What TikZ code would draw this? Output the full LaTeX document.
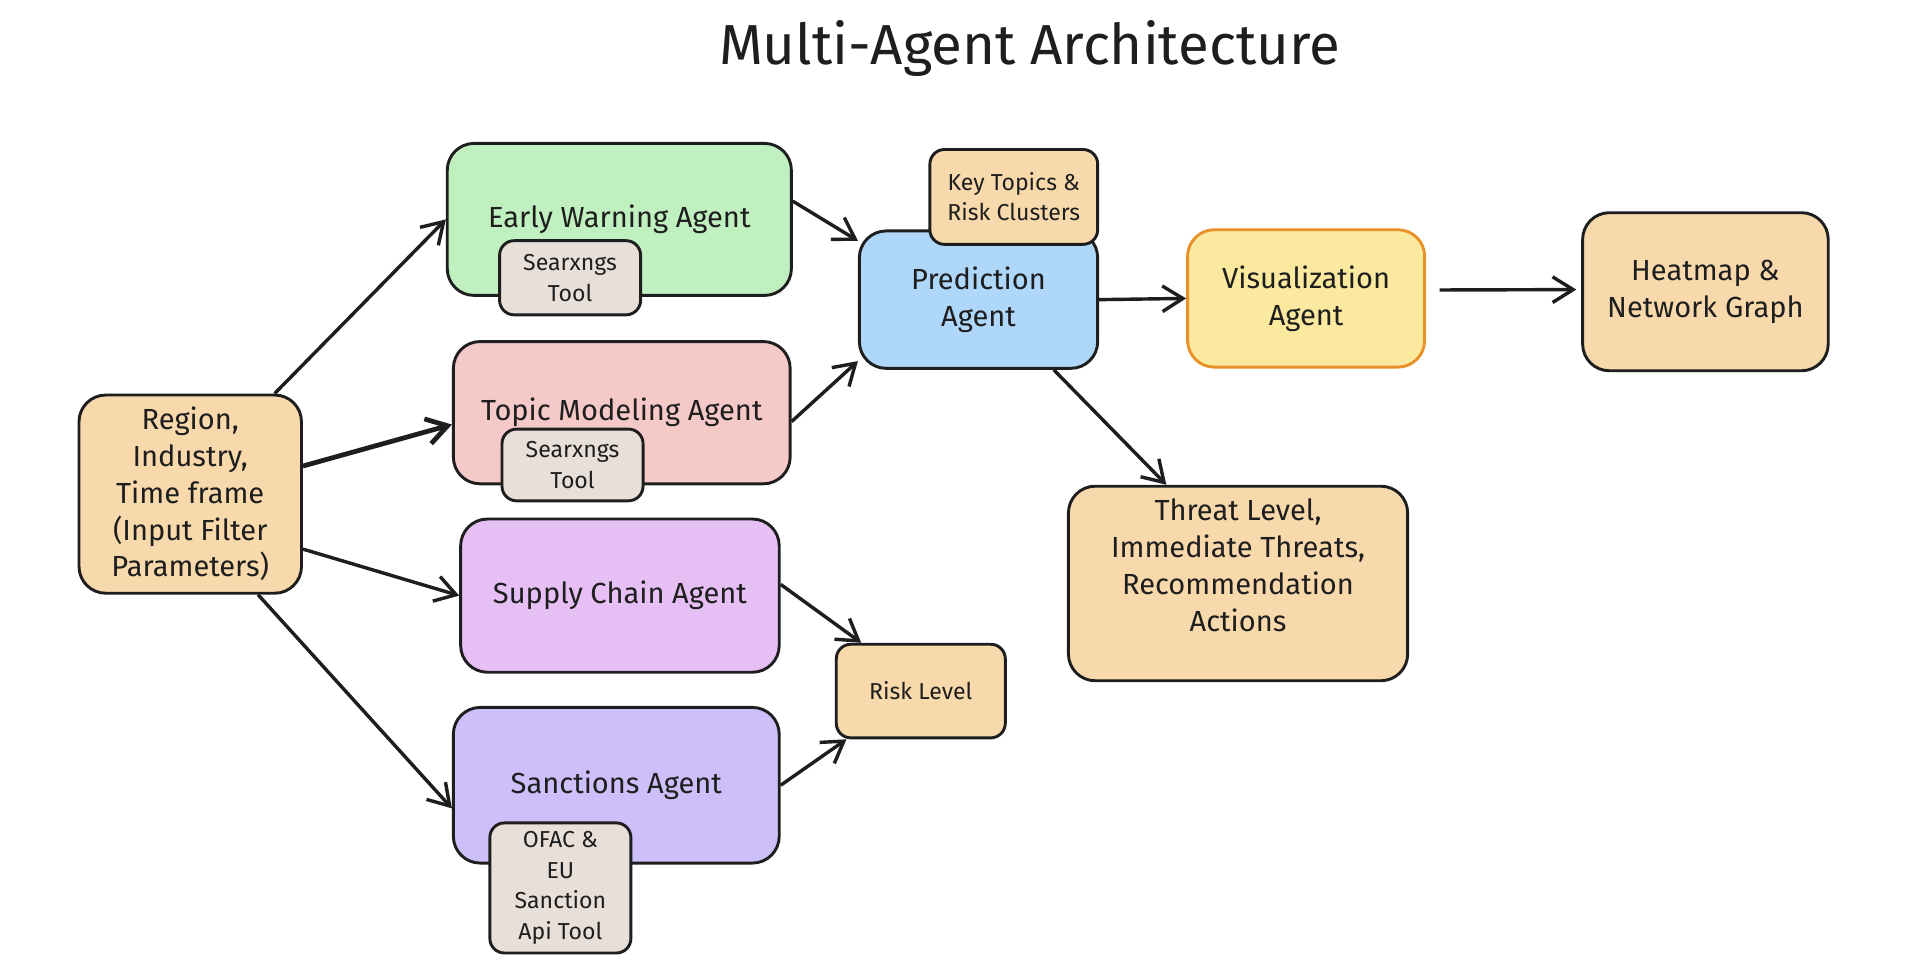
\documentclass[tikz,border=0pt]{standalone}
\usepackage{fontspec}
\setmainfont{Fira Sans}
\usetikzlibrary{arrows.meta,calc}
\definecolor{ink}{RGB}{30,30,30}
\definecolor{peach}{RGB}{248,217,172}
\definecolor{mint}{RGB}{192,240,192}
\definecolor{rose}{RGB}{246,201,201}
\definecolor{lilac}{RGB}{230,192,245}
\definecolor{lavender}{RGB}{205,191,250}
\definecolor{sky}{RGB}{174,215,250}
\definecolor{butter}{RGB}{251,233,160}
\definecolor{amber}{RGB}{232,145,40}
\definecolor{stone}{RGB}{231,223,216}
\tikzset{
  every picture/.style={color=ink, line width=1.7pt},
  box/.style={draw=ink, rounded corners=5.5mm, inner sep=4pt, align=center, text=ink, font=\fontsize{17}{21.5}\selectfont},
  agent/.style={box},
  result/.style={box, fill=peach},
  tool/.style={box, fill=stone, rounded corners=3mm, font=\fontsize{13.5}{18}\selectfont},
  small/.style={box, fill=peach, rounded corners=3mm, font=\fontsize{13.5}{17.5}\selectfont},
  flow/.style={-{Straight Barb[length=12pt,width=15pt]}, line width=2pt, color=ink},
  heavy/.style={flow, line width=2.8pt},
  title/.style={font=\fontsize{33}{40}\selectfont, text=ink},
}

\begin{document}
\begin{tikzpicture}[x=0.025cm, y=-0.025cm]
  \useasboundingbox (0,0) rectangle (1568,796);
  \node[title] (head) at (847,40) {Multi-Agent Architecture};
  % input and agents
  \node[result, minimum width=4.575cm, minimum height=4.075cm] (region) at (156.5,406.5) {Region,\\ Industry,\\ Time frame\\ (Input Filter\\ Parameters)};
  \node[agent, fill=mint, minimum width=7.075cm, minimum height=3.125cm] (early) at (509.5,180.5) {Early Warning Agent};
  \node[agent, fill=rose, minimum width=6.925cm, minimum height=2.925cm] (topic) at (511.5,339.5) {Topic Modeling Agent};
  \node[agent, fill=lilac, minimum width=6.55cm, minimum height=3.15cm] (supply) at (510,490) {Supply Chain Agent};
  \node[agent, fill=lavender, minimum width=6.7cm, minimum height=3.2cm] (sanctions) at (507,646) {Sanctions Agent};
  \node[tool, minimum width=2.9cm, minimum height=1.525cm] (searxa) at (469,228.5) {Searxngs\\ Tool};
  \node[tool, minimum width=2.9cm, minimum height=1.475cm] (searxb) at (471,382.5) {Searxngs\\ Tool};
  \node[tool, minimum width=2.9cm, minimum height=2.675cm] (ofac) at (461,730.5) {OFAC \&\\ EU\\ Sanction\\ Api Tool};
  % prediction side
  \node[agent, fill=sky, minimum width=4.9cm, minimum height=2.825cm] (predict) at (805,246.5) {Prediction\\ Agent};
  \node[small, minimum width=3.45cm, minimum height=1.95cm] (topics) at (834,162) {Key Topics \&\\ Risk Clusters};
  \node[agent, fill=butter, draw=amber, minimum width=4.875cm, minimum height=2.825cm] (visual) at (1074.5,245.5) {Visualization\\ Agent};
  \node[result, minimum width=5.05cm, minimum height=3.25cm] (heatmap) at (1403,240) {Heatmap \&\\ Network Graph};
  \node[result, minimum width=6.975cm, minimum height=4cm] (threat) at (1018.5,480) {};
  \node[box, draw=none, fill=none] (threattext) at ($(threat.center)+(0,-15)$) {Threat Level,\\ Immediate Threats,\\ Recommendation\\ Actions};
  \node[small, minimum width=3.475cm, minimum height=1.925cm] (risk) at (757.5,568.5) {Risk Level};
  % connectors
  \draw[flow] (region.50) -- (early.west);
  \draw[heavy] (region.14) -- (topic.184);
  \draw[flow] (region.-26) -- (supply.west);
  \draw[flow] (region.-56) -- (sanctions.188);
  \draw[flow] (early.6) -- (predict.154);
  \draw[flow] (topic.-3) -- (predict.207);
  \draw[flow] (predict.east) -- (visual.west);
  \draw[flow, shorten <=0.275cm, shorten >=0.1cm] (visual.4) -- (heatmap.179);
  \draw[flow] (predict.-43) -- (threat.126);
  \draw[flow] (supply.4) -- (risk.141);
  \draw[flow] (sanctions.east) -- (risk.213);
\end{tikzpicture}
\end{document}
